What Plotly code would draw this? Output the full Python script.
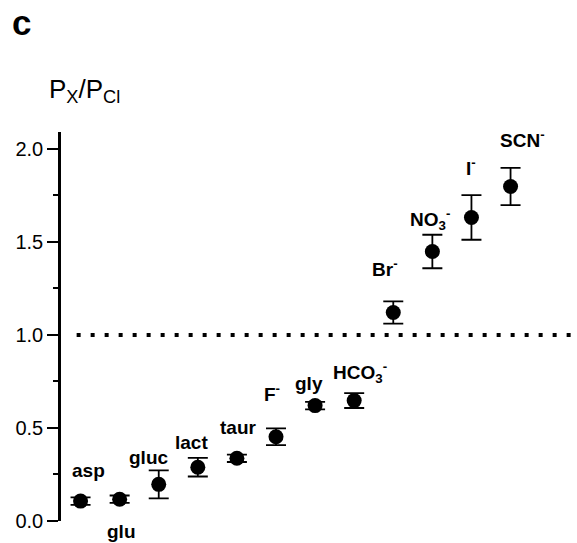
import plotly.graph_objects as go

# Data
ions = ["asp", "glu", "gluc", "lact", "taur", "F<sup>-</sup>", "gly",
        "HCO<sub>3</sub><sup>-</sup>", "Br<sup>-</sup>", "NO<sub>3</sub><sup>-</sup>",
        "I<sup>-</sup>", "SCN<sup>-</sup>"]
ratio = [0.107, 0.117, 0.197, 0.289, 0.337, 0.453, 0.62, 0.647, 1.12, 1.448, 1.631, 1.797]
err = [0.02, 0.02, 0.075, 0.05, 0.02, 0.045, 0.02, 0.04, 0.06, 0.09, 0.12, 0.10]
yticks = [0.0, 0.5, 1.0, 1.5, 2.0]
ytick_text = ["0.0", "0.5", "1.0", "1.5", "2.0"]

# label placement (layout only): x offset in category units, y in data units, extra pixel shift
label_dx = [0.2, 0.05, -0.25, -0.15, 0.05, -0.1, -0.15, 0.15, -0.2, -0.05, 0.0, 0.3]
label_y = [0.27, 0.0, 0.34, 0.42, 0.50, 0.69, 0.74, 0.80, 1.36, 1.62, 1.90, 2.05]
label_shift = [0, -10, 0, 0, 0, 0, 0, 0, 0, 0, 0, 0]

xs = list(range(1, len(ratio) + 1))

W, H = 577, 543
ML, MT, MB, MR = 61, 132, 22, 0
PW, PH = W - ML - MR, H - MT - MB

fig = go.Figure()
fig.add_trace(go.Scatter(
    x=xs, y=ratio, mode="markers",
    marker=dict(color="black", size=15),
    error_y=dict(type="data", array=err, visible=True, color="black",
                 thickness=1.8, width=10),
    showlegend=False, cliponaxis=False,
))

fig.add_shape(type="line", xref="x", yref="y", x0=0.9, x1=13.7, y0=1, y1=1,
              line=dict(color="black", width=4, dash="4px,10px"))

for x, lab, dx, ly, sh in zip(xs, ions, label_dx, label_y, label_shift):
    fig.add_annotation(x=x + dx, y=ly, text="<b>" + lab + "</b>", showarrow=False,
                       xref="x", yref="y", yanchor="middle", yshift=sh,
                       font=dict(family="Liberation Sans, Arial", size=19, color="black"))

# axis title and panel letter (pixel positions in the page)
def px_to_paper(px, py):
    return (px - ML) / PW, (H - MB - py) / PH

tx, ty = px_to_paper(84, 91)
fig.add_annotation(x=tx, y=ty, xref="paper", yref="paper", text="P<sub>X</sub>/P<sub>Cl</sub>",
                   xanchor="center", yanchor="middle", showarrow=False,
                   font=dict(family="Liberation Sans, Arial", size=26, color="black"))
cx, cy = px_to_paper(21, 22)
fig.add_annotation(x=cx, y=cy, xref="paper", yref="paper", text="<b>c</b>",
                   xanchor="center", yanchor="middle", showarrow=False,
                   font=dict(family="Liberation Sans, Arial", size=35, color="black"))

fig.update_layout(
    width=W, height=H,
    margin=dict(l=ML, r=MR, t=MT, b=MB),
    plot_bgcolor="white", paper_bgcolor="white",
    font=dict(family="Liberation Sans, Arial", color="black", size=20),
    xaxis=dict(range=[0.5, 13.7], visible=False),
    yaxis=dict(range=[0, 2.09], tickvals=yticks, ticktext=ytick_text,
               showline=True, linecolor="black", linewidth=2.5,
               ticks="outside", ticklen=11, tickwidth=2, tickcolor="black",
               showgrid=False, zeroline=False,
               minor=dict(tickvals=[0.25, 0.75, 1.25, 1.75], ticks="outside",
                          ticklen=5, tickwidth=2, tickcolor="black"),
               tickfont=dict(size=20)),
)

fig.write_html("out.html", config={"displayModeBar": False},
               post_script="document.body.style.margin='0';")
